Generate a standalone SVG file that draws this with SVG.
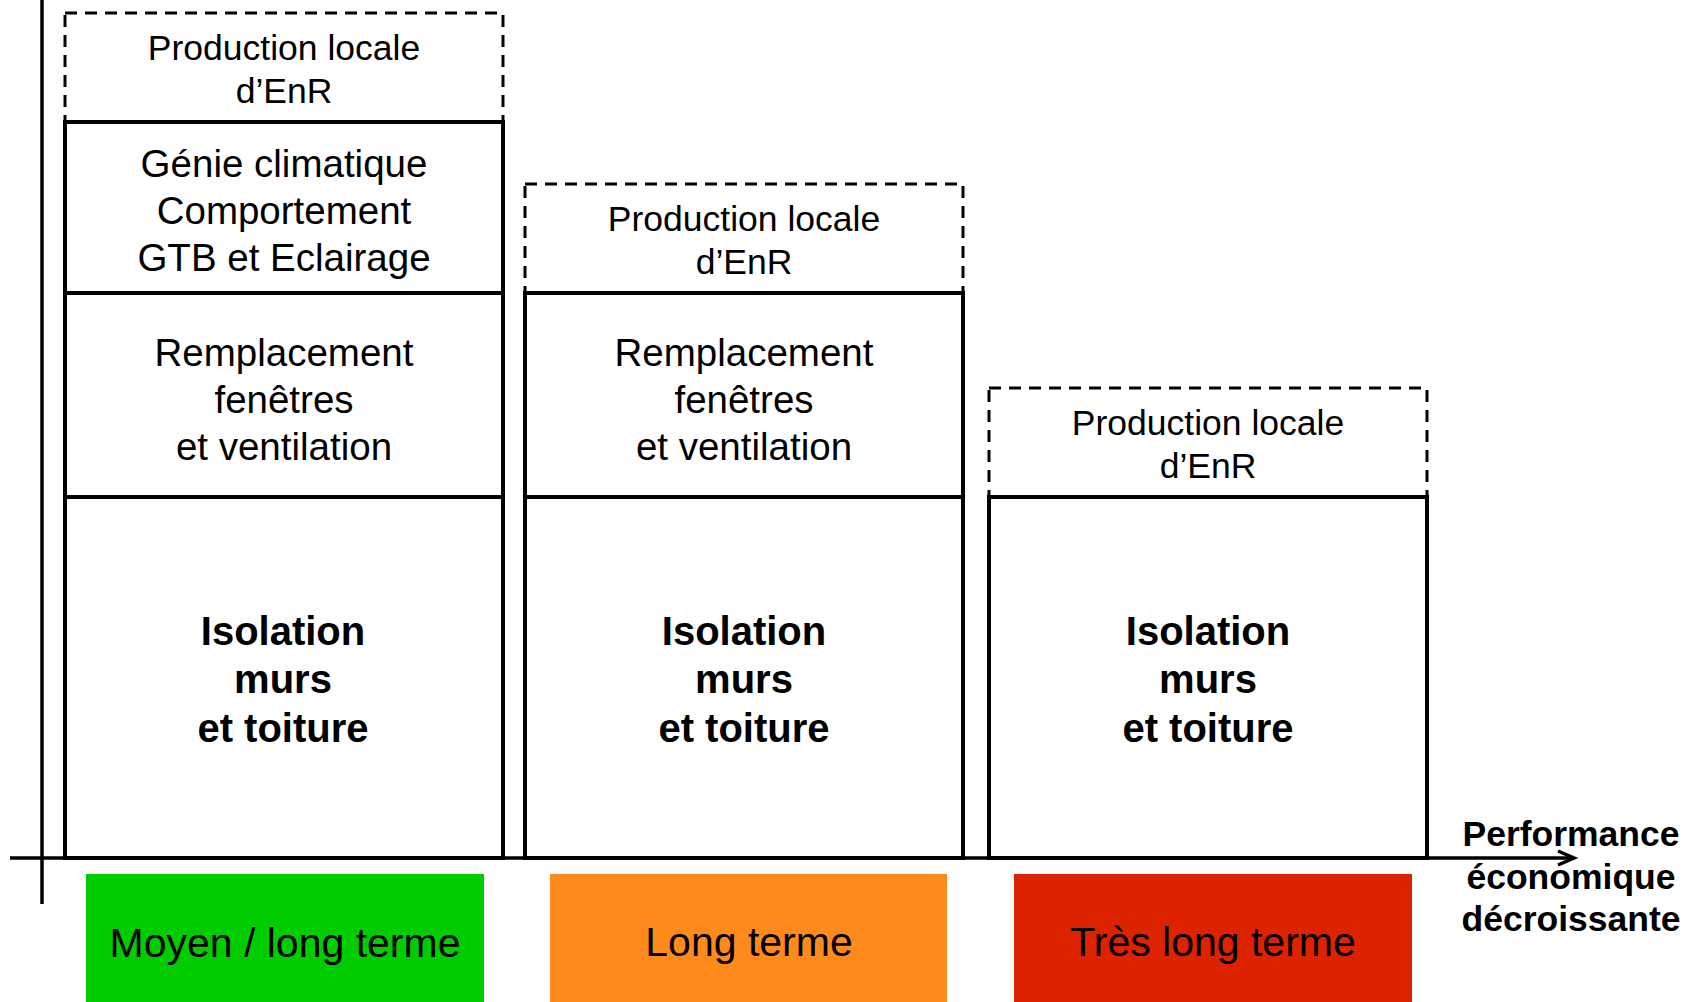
<svg xmlns="http://www.w3.org/2000/svg" width="1701" height="1002" viewBox="0 0 1701 1002">
  <style>
    .bg { fill: #ffffff; }
    .solid { fill: #ffffff; stroke: #000000; stroke-width: 4; }
    .dashed { fill: none; stroke: #000000; stroke-width: 3; stroke-dasharray: 12 8; }
    .axis { fill: none; stroke: #000000; stroke-width: 3.5; }
    .t { font-family: "Liberation Sans", Arial, sans-serif; fill: #000000; text-anchor: middle; }
    .prod { font-size: 35.5px; }
    .mid { font-size: 38.5px; }
    .iso { font-size: 40px; font-weight: bold; }
    .perf { font-size: 35.5px; font-weight: bold; }
    .term { font-size: 41px; }
  </style>

  <rect class="bg" x="0" y="0" width="1701" height="1002"/>

  <!-- Column 1: medium / long term -->
  <g id="col1-enr">
    <rect class="dashed" x="65" y="13" width="438" height="109"/>
    <text class="t prod" x="284" y="60">Production locale</text>
    <text class="t prod" x="284" y="103">d’EnR</text>
  </g>
  <g id="col1-genie">
    <rect class="solid" x="65" y="122" width="438" height="171"/>
    <text class="t mid" x="284" y="177">Génie climatique</text>
    <text class="t mid" x="284" y="224">Comportement</text>
    <text class="t mid" x="284" y="271">GTB et Eclairage</text>
  </g>
  <g id="col1-fenetres">
    <rect class="solid" x="65" y="293" width="438" height="204"/>
    <text class="t mid" x="284" y="366">Remplacement</text>
    <text class="t mid" x="284" y="413">fenêtres</text>
    <text class="t mid" x="284" y="460">et ventilation</text>
  </g>
  <g id="col1-isolation">
    <rect class="solid" x="65" y="497" width="438" height="361"/>
    <text class="t iso" x="283" y="645">Isolation</text>
    <text class="t iso" x="283" y="693">murs</text>
    <text class="t iso" x="283" y="742">et toiture</text>
  </g>

  <!-- Column 2: long term -->
  <g id="col2-enr">
    <rect class="dashed" x="525" y="184" width="438" height="109"/>
    <text class="t prod" x="744" y="231">Production locale</text>
    <text class="t prod" x="744" y="274">d’EnR</text>
  </g>
  <g id="col2-fenetres">
    <rect class="solid" x="525" y="293" width="438" height="204"/>
    <text class="t mid" x="744" y="366">Remplacement</text>
    <text class="t mid" x="744" y="413">fenêtres</text>
    <text class="t mid" x="744" y="460">et ventilation</text>
  </g>
  <g id="col2-isolation">
    <rect class="solid" x="525" y="497" width="438" height="361"/>
    <text class="t iso" x="744" y="645">Isolation</text>
    <text class="t iso" x="744" y="693">murs</text>
    <text class="t iso" x="744" y="742">et toiture</text>
  </g>

  <!-- Column 3: very long term -->
  <g id="col3-enr">
    <rect class="dashed" x="989" y="388" width="438" height="109"/>
    <text class="t prod" x="1208" y="435">Production locale</text>
    <text class="t prod" x="1208" y="478">d’EnR</text>
  </g>
  <g id="col3-isolation">
    <rect class="solid" x="989" y="497" width="438" height="361"/>
    <text class="t iso" x="1208" y="645">Isolation</text>
    <text class="t iso" x="1208" y="693">murs</text>
    <text class="t iso" x="1208" y="742">et toiture</text>
  </g>

  <!-- Axes -->
  <g id="axes">
    <line class="axis" x1="42" y1="0" x2="42" y2="904"/>
    <line class="axis" x1="10" y1="858" x2="1572" y2="858"/>
    <polyline class="axis" points="1558,851 1574,858 1558,865"/>
  </g>

  <g id="axis-label">
    <text class="t perf" x="1571" y="846">Performance</text>
    <text class="t perf" x="1571" y="889">économique</text>
    <text class="t perf" x="1571" y="931">décroissante</text>
  </g>

  <!-- Time horizon bands -->
  <g id="term-moyen">
    <rect x="86" y="874" width="398" height="128" fill="#00cc00"/>
    <text class="t term" x="285" y="957">Moyen / long terme</text>
  </g>
  <g id="term-long">
    <rect x="550" y="874" width="397" height="128" fill="#ff8a1c"/>
    <text class="t term" x="749" y="956">Long terme</text>
  </g>
  <g id="term-tres-long">
    <rect x="1014" y="874" width="398" height="128" fill="#dd2200"/>
    <text class="t term" x="1213" y="956">Très long terme</text>
  </g>
</svg>
